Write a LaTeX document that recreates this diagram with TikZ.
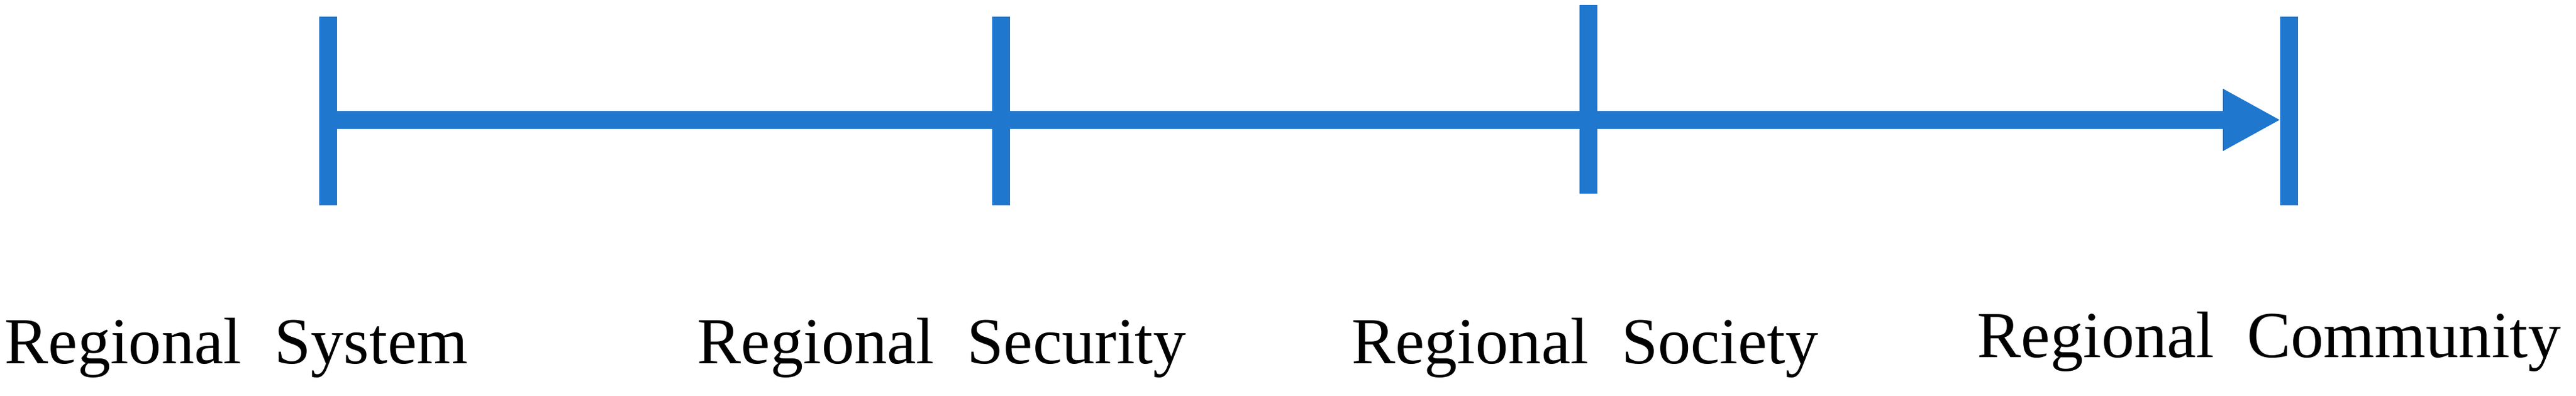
\documentclass[tikz,border=0pt]{standalone}
\usepackage{fontspec}
\setmainfont{Liberation Serif}
\usetikzlibrary{arrows.meta}
\definecolor{lineblue}{RGB}{31,119,206}
\begin{document}
\begin{tikzpicture}[x=0.3125pt,y=-0.3125pt,
  tick/.style={draw=lineblue,line width=3.4pt},
  lab/.style={font=\fontsize{12.5pt}{15pt}\selectfont,anchor=center}]
\useasboundingbox (0,0) rectangle (1570,241);
\coordinate (t1a) at (200,10); \coordinate (t1b) at (200,125);
\coordinate (t2a) at (610,10); \coordinate (t2b) at (610,125);
\coordinate (t3a) at (968,3); \coordinate (t3b) at (968,118);
\coordinate (t4a) at (1395,10); \coordinate (t4b) at (1395,125);
\draw[tick] (t1a) -- (t1b);
\draw[tick] (t2a) -- (t2b);
\draw[tick] (t3a) -- (t3b);
\draw[tick] (t4a) -- (t4b);
\coordinate (s) at (200,73); \coordinate (e) at (1390,73);
\draw[draw=lineblue,line width=3.4pt,-{Triangle[length=11pt,width=11pt]}] (s) -- (e);
\node[lab] (l1) at (144,212) {Regional\ \ System};
\node[lab] (l2) at (574,212) {Regional\ \ Security};
\node[lab] (l3) at (966,212) {Regional\ \ Society};
\node[lab] (l4) at (1383,208) {Regional\ \ Community};
\end{tikzpicture}
\end{document}
